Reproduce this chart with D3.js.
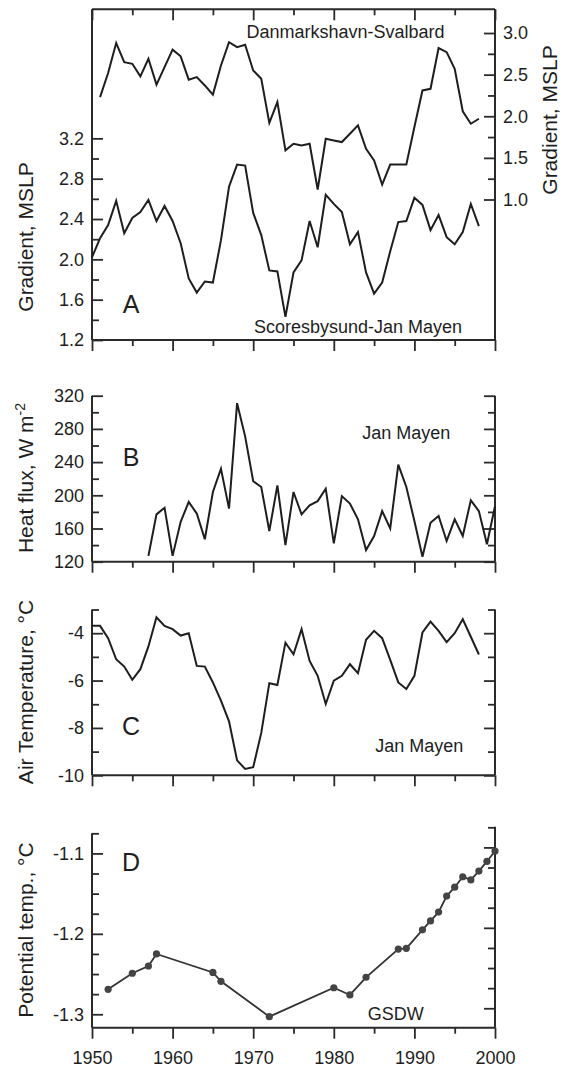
<!DOCTYPE html>
<html><head><meta charset="utf-8">
<script src="https://cdn.jsdelivr.net/npm/d3@7"></script>
<style>body{margin:0;background:#fff}svg{display:block}</style>
</head><body>
<script>
// ---------- DATA ----------
// Panel A: Danmarkshavn-Svalbard MSLP gradient (right axis), 1951-1998
const dsYears = d3.range(1951, 1999);
const dsValues = [2.23, 2.52, 2.88, 2.65, 2.63, 2.48, 2.69, 2.38, 2.59, 2.80,
  2.72, 2.44, 2.47, 2.37, 2.26, 2.61, 2.89, 2.83, 2.86, 2.55,
  2.45, 1.92, 2.17, 1.59, 1.67, 1.65, 1.67, 1.12, 1.73, 1.71,
  1.69, 1.79, 1.89, 1.61, 1.47, 1.18, 1.42, 1.42, 1.42, 1.87,
  2.31, 2.33, 2.82, 2.77, 2.57, 2.06, 1.91, 1.97];
// Panel A: Scoresbysund-Jan Mayen MSLP gradient (left axis), 1950-1998
const sjYears = d3.range(1950, 1999);
const sjValues = [2.02, 2.21, 2.34, 2.58, 2.26, 2.41, 2.47, 2.59, 2.38, 2.53,
  2.38, 2.16, 1.81, 1.67, 1.78, 1.77, 2.19, 2.72, 2.94, 2.93,
  2.46, 2.24, 1.89, 1.88, 1.43, 1.87, 1.99, 2.38, 2.12, 2.64,
  2.55, 2.47, 2.15, 2.27, 1.87, 1.66, 1.77, 2.08, 2.37, 2.38,
  2.61, 2.54, 2.29, 2.44, 2.22, 2.15, 2.27, 2.55, 2.33];
// Panel B: Jan Mayen heat flux, 1957-2000
const hfYears = d3.range(1957, 2001);
const hfValues = [127, 177, 185, 127, 168, 192, 178, 147, 204, 232,
  184, 311, 271, 217, 210, 157, 212, 140, 204, 177,
  188, 193, 208, 142, 199, 190, 171, 134, 151, 181,
  160, 237, 210, 169, 126, 167, 175, 145, 171, 151,
  194, 181, 141, 187];
// Panel C: Jan Mayen air temperature, 1950-1998
const atYears = d3.range(1950, 1999);
const atValues = [-3.69, -3.69, -4.21, -5.10, -5.41, -5.97, -5.52, -4.56, -3.33, -3.69,
  -3.83, -4.10, -4.00, -5.38, -5.41, -6.08, -6.85, -7.72, -9.37, -9.73,
  -9.66, -8.21, -6.11, -6.19, -4.40, -4.89, -3.83, -5.17, -5.80, -6.99,
  -6.00, -5.80, -5.31, -5.69, -4.28, -3.90, -4.21, -5.13, -6.08, -6.36,
  -5.80, -3.97, -3.51, -3.90, -4.38, -4.00, -3.41, -4.15, -4.90];
// Panel D: GSDW potential temperature
const ptYears = [1952, 1955, 1957, 1958, 1965, 1966, 1972, 1980, 1982, 1984, 1988, 1989,
  1991, 1992, 1993, 1994, 1995, 1996, 1997, 1998, 1999, 2000];
const ptValues = [-1.269, -1.249, -1.240, -1.225, -1.248, -1.259, -1.303, -1.267, -1.276, -1.254, -1.219, -1.218,
  -1.195, -1.184, -1.173, -1.153, -1.142, -1.129, -1.133, -1.122, -1.110, -1.097];

// tick labels
const xTickYears = [1950, 1960, 1970, 1980, 1990, 2000];
const aLeftTicks = [1.2, 1.6, 2.0, 2.4, 2.8, 3.2];
const aRightTicks = [1.0, 1.5, 2.0, 2.5, 3.0];
const bTicks = [120, 160, 200, 240, 280, 320];
const cTicks = [-10, -8, -6, -4];
const dTicks = [-1.3, -1.2, -1.1];

// ---------- CHART ----------
const FONT = "'Liberation Sans', Arial, Helvetica, sans-serif";
const INK = "#1e1e1e";
const AX = "#2a2a2a";
const svg = d3.select("body").append("svg")
  .attr("width", 563).attr("height", 1070)
  .style("font-family", FONT);

const x = d3.scaleLinear().domain([1950, 2000]).range([92, 495]);
const xMinor = [1955, 1965, 1975, 1985, 1995];

const yAL = d3.scaleLinear().domain([1.2, 4.48]).range([340, 9.3]);
const yAR = d3.scaleLinear().domain([-0.688, 3.285]).range([340, 9.3]);
const yB = d3.scaleLinear().domain([120, 320]).range([561.7, 395.7]);
const yC = d3.scaleLinear().domain([-10, -3]).range([775.3, 609.5]);
const yD = d3.scaleLinear().domain([-1.3167, -1.075]).range([1027.7, 833.3]);

function styleAxis(g) {
  g.selectAll(".domain").remove();
  g.selectAll("line").attr("stroke", AX).attr("stroke-width", 1.8);
  g.selectAll("text").attr("fill", INK).style("font-size", "18px").style("font-family", FONT);
}

function yAxis(scale, side, majors, minors, fmt, extent, shift) {
  const xpos = side === "left" ? x(1950) : x(2000);
  const mk = side === "left" ? d3.axisLeft : d3.axisRight;
  const g = svg.append("g").attr("transform", `translate(${xpos},0)`);
  const t = g.append("g").attr("transform", `translate(0,${shift || 0})`);
  t.append("g").call(mk(scale).tickValues(minors).tickSize(-7).tickFormat(""));
  t.append("g").call(mk(scale).tickValues(majors).tickSize(-11).tickPadding(8)
    .tickFormat(fmt ? fmt : () => ""));
  styleAxis(g);
  g.append("line").attr("x1", 0).attr("x2", 0)
    .attr("y1", extent[0]).attr("y2", extent[1])
    .attr("stroke", AX).attr("stroke-width", 2);
}

function xAxis(ypos, labels, top) {
  const mk = top ? d3.axisTop : d3.axisBottom;
  const g = svg.append("g").attr("transform", `translate(0,${ypos})`);
  const sgn = top ? -1 : 1;
  g.append("g").call(mk(x).tickValues(xMinor).tickSize(sgn * 6).tickFormat(""));
  g.append("g").call(mk(x).tickValues(xTickYears).tickSize(sgn * 11).tickPadding(13)
    .tickFormat(labels ? d => String(d) : () => ""));
  styleAxis(g);
  g.append("line").attr("x1", x(1950)).attr("x2", x(2000))
    .attr("stroke", AX).attr("stroke-width", 2);
}

function drawLine(xs, vs, yScale, color, w) {
  const pts = xs.map((d, i) => [d, vs[i]]);
  svg.append("path").datum(pts)
    .attr("fill", "none").attr("stroke", color || INK).attr("stroke-width", w || 2)
    .attr("stroke-linejoin", "miter")
    .attr("d", d3.line().x(d => x(d[0])).y(d => yScale(d[1])));
  return pts;
}

function txt(px, py, s, size, anchor) {
  return svg.append("text").attr("x", px).attr("y", py)
    .attr("text-anchor", anchor || "middle")
    .attr("fill", INK).style("font-size", size + "px").text(s);
}

function yTitle(cx, cy, s, sup) {
  const t = svg.append("text")
    .attr("transform", `translate(${cx},${cy}) rotate(-90)`)
    .attr("text-anchor", "middle").attr("fill", INK)
    .style("font-size", "21px").text(s);
  if (sup) t.append("tspan").attr("dy", -8).style("font-size", "14px").text(sup);
  return t;
}

const fmt1 = d => d.toFixed(1);
const fmtI = d => String(d);
const letterX = x(1954.85);

// ----- Panel A -----
xAxis(340, false, false);
xAxis(9.3, false, true);
yAxis(yAL, "left", aLeftTicks, [1.4, 1.8, 2.2, 2.6, 3.0], fmt1, [9.3, 340]);
yAxis(yAR, "right", aRightTicks, [1.25, 1.75, 2.25, 2.75], fmt1, [9.3, 340]);
drawLine(dsYears, dsValues, yAR);
drawLine(sjYears, sjValues, yAL);
txt(x(1981.45), yAR(2.94), "Danmarkshavn-Svalbard", 18);
txt(x(1983), yAL(1.27), "Scoresbysund-Jan Mayen", 18);
txt(letterX, yAL(1.47), "A", 25);
yTitle(33, 237, "Gradient, MSLP");
yTitle(557, 120, "Gradient, MSLP");

// ----- Panel B -----
xAxis(561.7, false, false);
yAxis(yB, "left", bTicks, [140, 180, 220, 260, 300], fmtI, [395.7, 561.7]);
yAxis(yB, "right", bTicks, [140, 180, 220, 260, 300], null, [395.7, 561.7]);
drawLine(hfYears, hfValues, yB);
txt(x(1989), yB(268), "Jan Mayen", 18);
txt(letterX, yB(235), "B", 25);
yTitle(33, 478, "Heat flux, W m", "-2");

// ----- Panel C -----
xAxis(775.3, false, false);
yAxis(yC, "left", cTicks, [-9, -7, -5, -3], fmtI, [609.5, 775.3]);
yAxis(yC, "right", cTicks, [-9, -7, -5, -3], null, [609.5, 775.3]);
drawLine(atYears, atValues, yC);
txt(x(1990.6), yC(-9.02), "Jan Mayen", 18);
txt(letterX, yC(-8.3), "C", 25);
yTitle(33, 692, "Air Temperature, °C");

// ----- Panel D -----
const dMinor = d3.range(0, 10).map(i => +(-1.3 + i * 0.025).toFixed(3))
  .filter(v => !dTicks.some(t => Math.abs(t - v) < 1e-6));
xAxis(1027.7, true, false);
yAxis(yD, "left", dTicks, dMinor, fmt1, [833.3, 1027.7]);
yAxis(yD, "right", dTicks, dMinor, null, [826.7, 1027.7], -6);
const ptPts = drawLine(ptYears, ptValues, yD, "#333", 1.8);
svg.append("g").selectAll("circle").data(ptPts).join("circle")
  .attr("cx", d => x(d[0])).attr("cy", d => yD(d[1])).attr("r", 3.6)
  .attr("fill", "#444");
txt(x(1987.7), yD(-1.3) + 6, "GSDW", 18);
txt(letterX, yD(-1.1) + 18, "D", 25);
yTitle(33, 930, "Potential temp., °C");
</script>
</body></html>
